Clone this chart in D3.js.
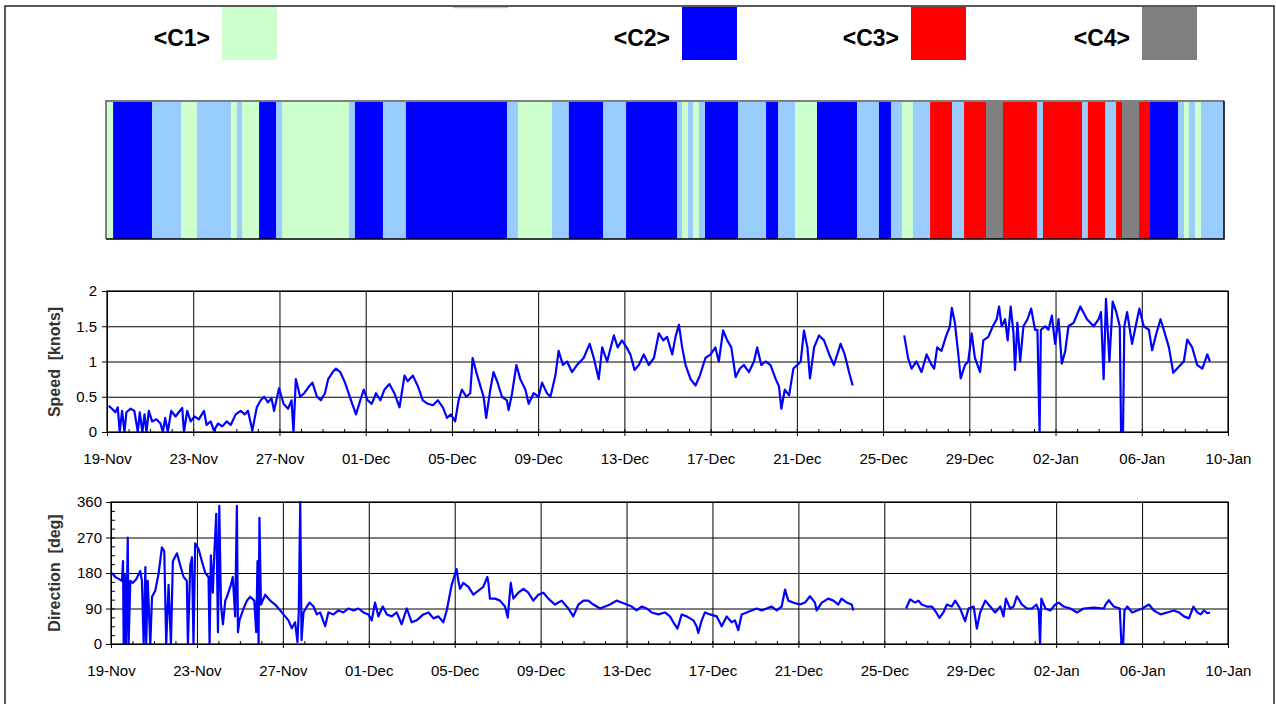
<!DOCTYPE html>
<html>
<head>
<meta charset="utf-8">
<script src="https://cdn.jsdelivr.net/npm/d3@7"></script>
<style>
  body { margin: 0; background: #fff; }
  svg { display: block; font-family: "Liberation Sans", Arial, sans-serif; }
</style>
</head>
<body>
<div id="chart"></div>
<script>
// ---- data (days counted from 19-Nov) ----
const legendLabels = ["<C1>", "<C2>", "<C3>", "<C4>"];
const categories = ["C1", "C2", "C3", "C4", "C5"];
const catColors = ["#CCFFCC", "#0000FF", "#FF0000", "#808080", "#99CCFF"];

// class bar: category of each segment and the day it ends
const segCats = ["C1","C2","C5","C1","C5","C1","C5","C1","C2","C5","C1","C5","C2","C5","C2","C5","C1","C5","C2","C5",
  "C2","C5","C1","C5","C1","C5","C2","C5","C2","C5","C1","C2","C5","C2","C5","C1","C5","C3","C5","C3",
  "C4","C3","C5","C3","C5","C3","C5","C3","C4","C3","C2","C5","C1","C5","C1","C5"];
const segEnds = [0.33,2.14,3.49,4.23,5.81,6.09,6.33,7.12,7.91,8.19,11.30,11.58,12.88,13.95,18.65,19.16,20.74,21.53,23.12,24.19,
  26.56,26.79,27.07,27.30,27.58,27.86,29.40,30.70,31.26,32.05,33.07,34.93,35.95,36.51,37.02,37.53,38.33,39.35,39.91,40.93,
  41.72,43.30,43.58,45.40,45.67,46.47,46.98,47.26,48.05,48.56,49.86,50.14,50.37,50.65,50.93,52.0];

const speedTicks = [0, 0.5, 1, 1.5, 2];
const dirTicks = [0, 90, 180, 270, 360];
const dayTicks = [0, 4, 8, 12, 16, 20, 24, 28, 32, 36, 40, 44, 48, 52];

const speedData = [
  [0.08,0.37],[0.23,0.33],[0.39,0.28],[0.5,0.35],[0.59,0],[0.7,0.3],[0.81,0],[0.9,0.28],[1.09,0.33],[1.27,0.3],
  [1.43,0],[1.52,0.28],[1.64,0],[1.74,0.25],[1.83,0],[1.94,0.3],[2.09,0.15],[2.29,0.18],[2.48,0.12],[2.59,0],
  [2.7,0.2],[2.82,0],[2.98,0.3],[3.18,0.22],[3.33,0.28],[3.49,0.34],[3.57,0],[3.72,0.3],[3.88,0.15],[4.06,0.22],
  [4.26,0.18],[4.5,0.3],[4.62,0.1],[4.81,0.15],[4.96,0.02],[5.15,0.12],[5.35,0.08],[5.55,0.15],[5.74,0.1],[5.97,0.25],
  [6.2,0.3],[6.39,0.25],[6.54,0.3],[6.74,0.02],[6.95,0.35],[7.13,0.45],[7.29,0.5],[7.47,0.42],[7.63,0.48],[7.75,0.3],
  [7.98,0.62],[8.19,0.4],[8.4,0.33],[8.56,0.45],[8.65,0],[8.76,0.75],[8.96,0.5],[9.15,0.55],[9.38,0.65],[9.53,0.7],
  [9.74,0.5],[9.92,0.45],[10.11,0.55],[10.26,0.75],[10.47,0.85],[10.62,0.9],[10.82,0.85],[11.04,0.7],[11.32,0.45],[11.55,0.25],
  [11.75,0.45],[11.91,0.6],[12.09,0.45],[12.28,0.4],[12.48,0.55],[12.68,0.45],[12.87,0.6],[13.1,0.68],[13.33,0.55],[13.57,0.35],
  [13.8,0.8],[13.95,0.72],[14.19,0.8],[14.42,0.65],[14.65,0.45],[14.88,0.4],[15.12,0.38],[15.35,0.45],[15.58,0.35],[15.77,0.2],
  [15.95,0.25],[16.15,0.15],[16.31,0.45],[16.46,0.6],[16.67,0.5],[16.85,0.55],[16.96,1.05],[17.13,0.85],[17.32,0.65],[17.47,0.5],
  [17.59,0.2],[17.78,0.6],[17.93,0.85],[18.12,0.7],[18.32,0.5],[18.55,0.45],[18.63,0.31],[18.79,0.55],[18.99,0.95],[19.17,0.75],
  [19.41,0.6],[19.56,0.4],[19.79,0.55],[20.02,0.5],[20.18,0.7],[20.41,0.55],[20.57,0.5],[20.8,0.8],[20.95,1.15],[21.15,0.95],
  [21.34,1.0],[21.57,0.85],[21.8,0.95],[22.11,1.05],[22.39,1.25],[22.58,1.05],[22.81,0.75],[22.97,1.2],[23.2,1.0],[23.51,1.37],
  [23.69,1.2],[23.89,1.3],[24.1,1.2],[24.28,1.1],[24.47,0.88],[24.67,0.95],[24.9,1.1],[25.13,0.95],[25.37,1.05],[25.6,1.4],
  [25.8,1.3],[25.98,1.35],[26.22,1.1],[26.37,1.35],[26.53,1.52],[26.68,1.2],[26.84,0.95],[27.07,0.75],[27.3,0.66],[27.5,0.8],
  [27.76,1.05],[28.0,1.1],[28.22,1.2],[28.38,1.0],[28.58,1.44],[28.77,1.3],[28.96,1.2],[29.16,0.78],[29.36,0.9],[29.54,0.95],
  [29.78,0.85],[30.01,1.0],[30.16,1.2],[30.35,0.95],[30.55,1.0],[30.78,0.95],[31.02,0.75],[31.17,0.65],[31.28,0.33],[31.44,0.6],
  [31.64,0.52],[31.84,0.9],[32.02,0.95],[32.18,1.0],[32.33,1.44],[32.49,1.2],[32.61,0.76],[32.8,1.2],[33.03,1.37],[33.26,1.3],
  [33.5,1.1],[33.72,0.95],[34.03,1.25],[34.22,1.1],[34.42,0.85],[34.59,0.66],[35.8,null],
  [36.98,1.37],[37.16,1.05],[37.32,0.9],[37.55,1.0],[37.78,0.85],[38.02,1.1],[38.25,0.95],[38.37,0.9],[38.51,1.2],[38.71,1.15],
  [38.91,1.35],[39.1,1.5],[39.19,1.76],[39.33,1.55],[39.49,1.1],[39.6,0.76],[39.8,0.95],[39.95,1.0],[40.11,1.4],[40.26,1.05],
  [40.5,0.85],[40.65,1.3],[40.88,1.35],[41.09,1.5],[41.27,1.6],[41.38,1.78],[41.5,1.5],[41.66,1.6],[41.78,1.3],[41.92,1.78],
  [42.05,1.4],[42.12,0.88],[42.23,1.55],[42.36,1.0],[42.51,1.5],[42.7,1.6],[42.87,1.75],[43.05,1.45],[43.16,1.45],[43.26,0],
  [43.32,1.45],[43.52,1.5],[43.67,1.45],[43.83,1.65],[43.98,1.25],[44.14,1.6],[44.29,0.97],[44.45,1.15],[44.6,1.5],[44.84,1.55],
  [45.15,1.78],[45.46,1.6],[45.77,1.5],[46.0,1.6],[46.11,1.7],[46.23,0.75],[46.34,1.89],[46.5,1.0],[46.65,1.85],[46.82,1.7],
  [46.98,1.5],[47.04,0],[47.13,0],[47.19,1.5],[47.32,1.7],[47.55,1.25],[47.75,1.55],[47.89,1.75],[48.09,1.5],[48.33,1.45],
  [48.48,1.16],[48.68,1.4],[48.87,1.6],[49.02,1.45],[49.26,1.2],[49.46,0.84],[49.64,0.9],[49.95,1.0],[50.11,1.31],[50.34,1.2],
  [50.57,0.95],[50.81,0.9],[51.04,1.1],[51.16,1.0]
];

const dirData = [
  [0.05,180],[0.2,170],[0.36,165],[0.51,160],[0.56,210],[0.59,0],[0.64,175],[0.7,0],[0.78,270],[0.82,0],
  [0.9,160],[1.02,155],[1.18,165],[1.36,185],[1.44,160],[1.52,0],[1.6,195],[1.64,0],[1.71,160],[1.83,0],
  [1.91,120],[2.06,135],[2.22,180],[2.37,245],[2.48,235],[2.57,0],[2.68,150],[2.79,0],[2.88,210],[3.07,230],
  [3.22,200],[3.38,170],[3.53,160],[3.58,0],[3.69,200],[3.77,220],[3.84,0],[3.92,255],[4.08,240],[4.23,210],
  [4.39,180],[4.54,170],[4.59,0],[4.65,225],[4.74,130],[4.81,230],[4.9,330],[4.98,30],[5.04,350],[5.12,100],
  [5.21,50],[5.32,110],[5.4,120],[5.58,150],[5.67,170],[5.78,70],[5.86,350],[5.91,30],[5.98,60],[6.17,90],
  [6.33,110],[6.48,120],[6.67,110],[6.76,30],[6.82,210],[6.87,0],[6.91,320],[6.98,100],[7.18,125],[7.41,110],
  [7.64,100],[7.8,90],[8.03,75],[8.26,60],[8.42,40],[8.57,55],[8.68,5],[8.74,80],[8.81,360],[8.87,10],
  [8.96,80],[9.12,95],[9.24,105],[9.43,95],[9.58,75],[9.74,80],[9.97,45],[10.12,80],[10.36,75],[10.59,85],
  [10.82,80],[11.05,90],[11.29,85],[11.52,90],[11.75,80],[11.98,75],[12.14,60],[12.29,105],[12.45,70],[12.65,95],
  [12.84,75],[13.07,70],[13.3,80],[13.53,50],[13.77,90],[14.0,55],[14.23,60],[14.54,75],[14.78,80],[15.01,65],
  [15.24,70],[15.47,55],[15.63,85],[15.86,150],[16.09,190],[16.17,160],[16.25,140],[16.4,155],[16.64,145],[16.87,125],
  [17.1,135],[17.33,145],[17.52,170],[17.57,155],[17.64,115],[17.88,115],[18.11,110],[18.34,95],[18.47,67],[18.61,155],
  [18.73,115],[18.96,130],[19.2,140],[19.43,130],[19.66,110],[19.89,125],[20.13,130],[20.36,115],[20.67,100],[20.98,110],
  [21.29,90],[21.52,70],[21.76,100],[21.99,110],[22.22,110],[22.45,100],[22.77,90],[23.0,95],[23.23,100],[23.54,110],
  [23.77,105],[24.01,100],[24.24,95],[24.47,85],[24.7,95],[24.94,90],[25.17,80],[25.48,75],[25.79,80],[26.02,70],
  [26.18,55],[26.37,39],[26.57,75],[26.8,70],[27.11,60],[27.26,45],[27.34,28],[27.5,60],[27.65,80],[27.89,75],
  [28.2,70],[28.43,45],[28.66,70],[28.89,55],[29.05,60],[29.2,35],[29.36,75],[29.59,80],[29.82,85],[30.06,90],
  [30.29,85],[30.52,90],[30.76,95],[30.99,85],[31.22,95],[31.38,138],[31.53,110],[31.76,105],[32.07,100],[32.31,105],
  [32.54,121],[32.77,105],[32.85,85],[33.09,105],[33.39,115],[33.63,110],[33.86,100],[34.01,115],[34.25,105],[34.48,100],
  [34.56,85],[35.8,null],
  [37.01,90],[37.2,113],[37.43,105],[37.59,110],[37.74,100],[37.98,95],[38.21,95],[38.36,85],[38.57,66],[38.75,80],
  [38.91,100],[39.14,95],[39.3,110],[39.53,90],[39.76,58],[39.92,90],[40.16,95],[40.31,39],[40.46,80],[40.7,110],
  [40.93,95],[41.16,80],[41.4,95],[41.55,70],[41.66,115],[41.86,90],[42.02,95],[42.17,121],[42.41,100],[42.64,90],
  [42.87,90],[43.08,100],[43.19,85],[43.25,0],[43.31,115],[43.5,90],[43.73,85],[43.96,100],[44.12,105],[44.35,95],
  [44.66,90],[44.97,80],[45.28,90],[45.75,92],[46.22,90],[46.3,100],[46.45,111],[46.68,95],[46.96,90],[47.04,0],
  [47.12,0],[47.18,85],[47.31,95],[47.54,80],[47.77,85],[48.01,90],[48.32,100],[48.55,85],[48.86,75],[49.17,80],
  [49.48,85],[49.72,80],[49.95,70],[50.18,65],[50.39,95],[50.57,80],[50.73,75],[50.88,85],[51.04,78],[51.16,80]
];

// ---- layout ----
const W = 1276, H = 704;
const START = Date.UTC(2004, 10, 19);
const dayDate = d => new Date(START + d * 864e5);
const fmt = d3.utcFormat("%d-%b");

const svg = d3.select("#chart").append("svg")
    .attr("width", W)
    .attr("height", H);

// legend
const legendX = [222, 682, 911, 1142];
const color = d3.scaleOrdinal().domain(categories).range(catColors);

// light blue legend swatch, almost all above the frame
svg.append("rect")
    .attr("x", 453).attr("y", 6.7)
    .attr("width", 55).attr("height", 1.5)
    .attr("fill", color("C5"));

legendLabels.forEach((lab, i) => {
    svg.append("rect")
        .attr("x", legendX[i]).attr("y", 7)
        .attr("width", 55).attr("height", 53)
        .attr("fill", color(categories[i]));
    svg.append("text")
        .attr("x", legendX[i] - 12).attr("y", 46)
        .attr("text-anchor", "end")
        .attr("font-size", 23)
        .attr("font-weight", "bold")
        .text(lab);
});

// class bar
const xBar = d3.scaleLinear().domain([0, 52]).range([106, 1224]);
const segs = segCats.map((c, i) => ({cat: c, s: i ? segEnds[i - 1] : 0, e: segEnds[i]}));
svg.append("g").selectAll("rect")
    .data(segs)
    .join("rect")
    .attr("x", d => xBar(d.s))
    .attr("y", 101)
    .attr("width", d => xBar(d.e) - xBar(d.s) + 0.5)
    .attr("height", 138)
    .attr("fill", d => color(d.cat));
svg.append("path").attr("d", "M106,239V101H1224").attr("fill", "none").attr("stroke", "#808080").attr("stroke-width", 2);
svg.append("path").attr("d", "M1224,101V239H106").attr("fill", "none").attr("stroke", "#000").attr("stroke-width", 1.5);

// panels
function drawPanel(cfg) {
    const left = cfg.left, right = 1228;
    const x = d3.scaleUtc().domain([dayDate(0), dayDate(52)]).range([left, right]);
    const y = d3.scaleLinear().domain([cfg.ticks[0], cfg.ticks[cfg.ticks.length - 1]]).range([cfg.bottom, cfg.top]);
    const majors = dayTicks.map(dayDate);
    const g = svg.append("g");

    // grid
    g.append("g")
        .attr("transform", `translate(${left},0)`)
        .call(d3.axisLeft(y).tickValues(cfg.ticks).tickSize(-(right - left)).tickFormat(""))
        .call(s => s.select(".domain").remove())
        .selectAll("line").attr("stroke", "#000");
    g.append("g")
        .attr("transform", `translate(0,${cfg.bottom})`)
        .call(d3.axisBottom(x).tickValues(majors).tickSize(-(cfg.bottom - cfg.top)).tickFormat(""))
        .call(s => s.select(".domain").remove())
        .selectAll("line").attr("stroke", "#000");

    // minor ticks
    g.append("g")
        .attr("transform", `translate(0,${cfg.bottom})`)
        .call(d3.axisBottom(x).tickValues(d3.range(0, 53).map(dayDate)).tickSize(-3).tickFormat(""))
        .call(s => s.select(".domain").remove());
    if (cfg.minorY) {
        g.append("g")
            .attr("transform", `translate(${left},0)`)
            .call(d3.axisLeft(y).tickValues(d3.range(cfg.ticks[0], cfg.ticks[cfg.ticks.length - 1], cfg.minorY)).tickSize(-4).tickFormat(""))
            .call(s => s.select(".domain").remove());
    }

    // series
    const line = d3.line()
        .defined(d => d[1] != null)
        .x(d => x(dayDate(d[0])))
        .y(d => y(d[1]));
    g.append("path")
        .datum(cfg.data)
        .attr("d", line)
        .attr("fill", "none")
        .attr("stroke", "#0000FF")
        .attr("stroke-width", 2.2)
        .attr("stroke-linejoin", "round");

    // axes
    g.append("rect")
        .attr("x", left).attr("y", cfg.top)
        .attr("width", right - left).attr("height", cfg.bottom - cfg.top)
        .attr("fill", "none").attr("stroke", "#000").attr("stroke-width", 1.2);

    g.append("g")
        .attr("transform", `translate(${left},0)`)
        .call(d3.axisLeft(y).tickValues(cfg.ticks).tickSize(5).tickPadding(cfg.yPad).tickFormat(d3.format("~g")))
        .call(s => s.select(".domain").remove())
        .call(s => s.selectAll("text").attr("font-size", 15).attr("font-family", "Liberation Sans, Arial, sans-serif").attr("fill", "#000"));
    g.append("g")
        .attr("transform", `translate(0,${cfg.bottom})`)
        .call(d3.axisBottom(x).tickValues(majors).tickSize(4).tickPadding(17).tickFormat(fmt))
        .call(s => s.select(".domain").remove())
        .call(s => s.selectAll("text").attr("font-size", 15).attr("font-family", "Liberation Sans, Arial, sans-serif").attr("fill", "#000"));

    g.append("text")
        .attr("transform", `translate(60,${cfg.titleY}) rotate(-90)`)
        .attr("text-anchor", "middle")
        .attr("font-size", 16)
        .attr("font-weight", "bold")
        .attr("fill", "#333")
        .style("white-space", "pre")
        .text(cfg.title);
}

drawPanel({left: 107, top: 291, bottom: 432, ticks: speedTicks, data: speedData,
    title: "Speed  [knots]", titleY: 362, yPad: 5});
drawPanel({left: 111, top: 502, bottom: 644, ticks: dirTicks, data: dirData,
    title: "Direction  [deg]", titleY: 573, yPad: 4, minorY: 22.5});

// outer frame
svg.append("path")
    .attr("d", `M5,${H + 5}V6H1274V${H + 5}`)
    .attr("fill", "none")
    .attr("stroke", "#222")
    .attr("stroke-width", 1.5);
</script>
</body>
</html>
